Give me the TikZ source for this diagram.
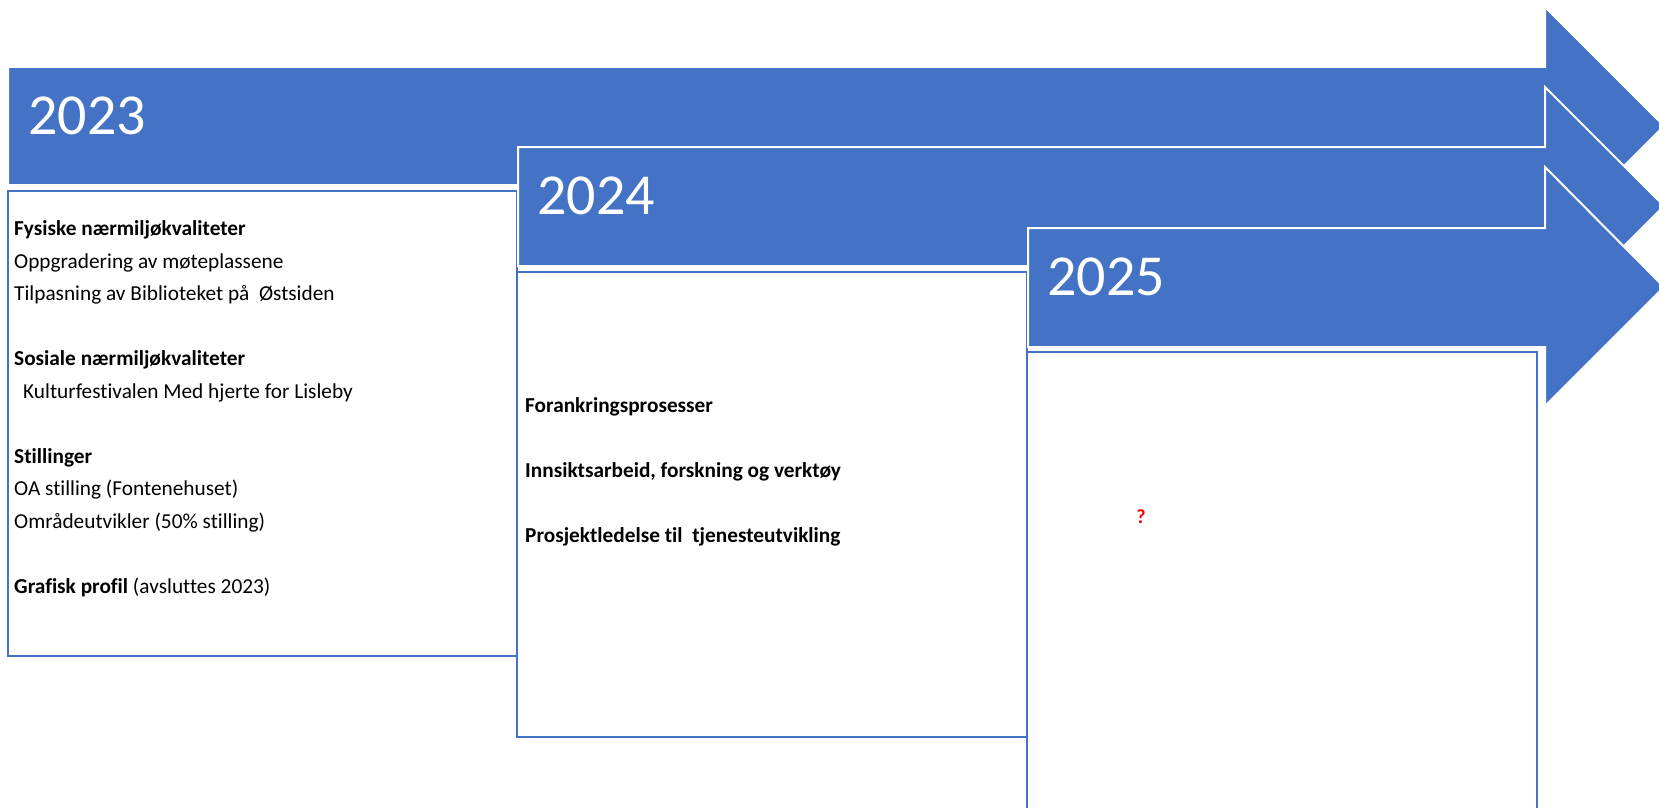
\documentclass[tikz,border=0pt]{standalone}
\usepackage{fontspec}
\setmainfont{Carlito}[Ligatures=CommonOff]
\usepackage{xcolor}
\usepackage{tikz}
\definecolor{yearblue}{RGB}{68, 114, 196}
\definecolor{askred}{RGB}{255, 0, 0}

\begin{document}
\begin{tikzpicture}[x=1pt, y=-1pt,
        yeararrow/.style={fill=yearblue, draw=white, line width=2pt, line join=miter},
        yearbox/.style={draw=yearblue, line width=2.6pt, fill=white},
        yearlabel/.style={anchor=base west, inner sep=0pt, text=white, font=\fontsize{58}{58}\selectfont},
        itemtext/.style={anchor=base west, inner sep=0pt, align=left, font=\fontsize{21.3}{32.5}\selectfont}]
        \useasboundingbox (0,0) rectangle (1659,808);
        \clip (0,0) rectangle (1659,808);
        % 2023
        \draw[yeararrow] (8,67) -- (1545,67) -- (1545,7) -- (1664,126) -- (1545,245) -- (1545,185) -- (8,185) -- cycle;
        \node[yearlabel] (y2023) at (28,134) {2023};
        \draw[yearbox] (8,191) rectangle (517,656);
        % base = last line
        \node[itemtext] (items2023) at (14,593) {%
            \textbf{Fysiske nærmiljøkvaliteter}\\
            Oppgradering av møteplassene\\
            Tilpasning av Biblioteket på~~Østsiden\\[32.5pt]
            \textbf{Sosiale nærmiljøkvaliteter}\\
            \hspace*{9pt}Kulturfestivalen Med hjerte for Lisleby\\[32.5pt]
            \textbf{Stillinger}\\
            OA stilling (Fontenehuset)\\
            Områdeutvikler (50\% stilling)\\[32.5pt]
            \textbf{Grafisk profil} (avsluttes 2023)};
        % 2024
        \draw[yeararrow] (518,147) -- (1545,147) -- (1545,87) -- (1664,206) -- (1545,325) -- (1545,266) -- (518,266) -- cycle;
        \node[yearlabel] (y2024) at (537,214) {2024};
        \draw[yearbox] (517,272) rectangle (1027,737);
        \node[itemtext, font=\bfseries\fontsize{21.3}{32.5}\selectfont] (items2024) at (525,542) {%
            Forankringsprosesser\\[32.5pt]
            Innsiktsarbeid, forskning og verktøy\\[32.5pt]
            Prosjektledelse til~~tjenesteutvikling};
        % 2025
        \draw[yeararrow] (1028,228) -- (1545,228) -- (1545,167) -- (1664,287) -- (1545,406) -- (1545,347) -- (1028,347) -- cycle;
        \node[yearlabel] (y2025) at (1047,295) {2025};
        \draw[yearbox] (1027,352) rectangle (1537,830);
        \node[text=askred, font=\bfseries\fontsize{20}{20}\selectfont] (ask2025) at (1141,517) {?};
    \end{tikzpicture}
\end{document}
